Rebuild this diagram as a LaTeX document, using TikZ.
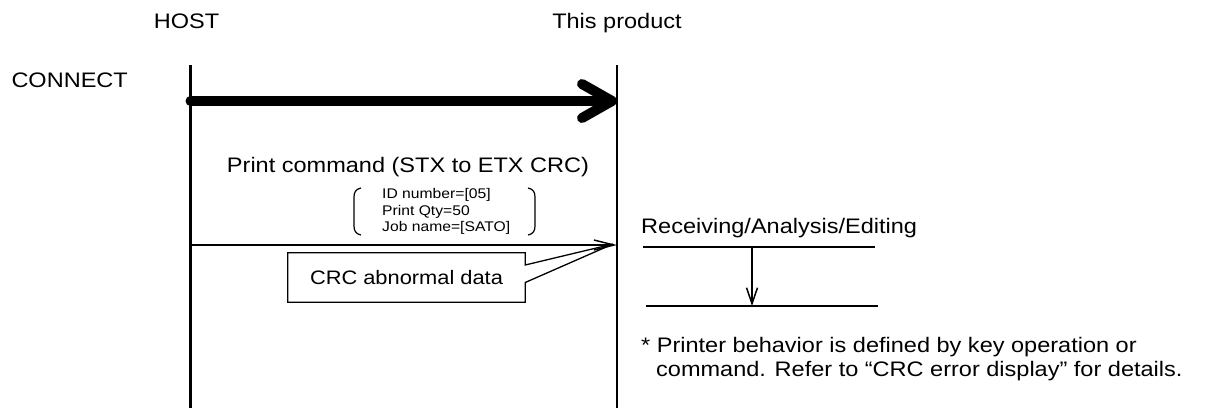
\documentclass[tikz,border=0pt]{standalone}
\usepackage{fontspec}
\setmainfont{Liberation Sans}[FakeStretch=1.12]
\usetikzlibrary{arrows.meta, positioning, calc}

\begin{document}
\begin{tikzpicture}[
    x=1pt, y=-1pt,
    lbl/.style={inner sep=0pt, font=\fontsize{21}{24}\selectfont},
    small/.style={inner sep=0pt, font=\fontsize{14}{16.5}\selectfont, align=left},
    life/.style={line width=2.5pt},
    bar/.style={line width=1.3pt},
    paren/.style={line width=1.2pt},
    big/.style={line width=10pt, line cap=round,
                -{Straight Barb[length=30pt, width=34pt, round]}},
    msg/.style={line width=1.5pt, -{Straight Barb[length=20pt, width=10pt]}},
    flow/.style={line width=1.5pt, -{Straight Barb[length=16pt, width=11pt]}},
  ]
    \useasboundingbox (0,0) rectangle (1206,407);

    % lifelines
    \coordinate (hostTop) at (190.5,65);
    \coordinate (hostBot) at (190.5,410);
    \coordinate (prodTop) at (617,65);
    \coordinate (prodBot) at (617,410);
    \draw[life] (hostTop) -- (hostBot);
    \draw[life] (prodTop) -- (prodBot);

    \node[lbl, anchor=base] (host) at (186.5,28) {HOST};
    \node[lbl, anchor=base] (prod) at (617,28) {This product};
    \node[lbl, anchor=base east] (conn) at (128,87.5) {CONNECT};

    % connect
    \coordinate (c1) at (hostTop |- 0,101);
    \coordinate (c2) at (prodTop |- 0,101);
    \draw[big] (c1) -- (c2);

    % print command
    \node[lbl, anchor=base] (cmd) at (408,172) {Print command (STX to ETX CRC)};
    \node[small, anchor=north west] (params) at (382,188.5)
        {ID number=[05]\\Print Qty=50\\Job name=[SATO]};
    \draw[paren] (361,188) .. controls (356,189) and (354,192) .. (354,197)
        -- (354,226) .. controls (354,231) and (356,234) .. (361,235);
    \draw[paren] (528,188) .. controls (533,189) and (535,192) .. (535,197)
        -- (535,226) .. controls (535,231) and (533,234) .. (528,235);

    \coordinate (m1) at (hostTop |- 0,245);
    \coordinate (m2) at (prodTop |- 0,245);
    \draw[msg] (m1) -- (m2);

    % callout
    \node[lbl, font=\fontsize{19.5}{22}\selectfont,
          minimum width=237pt, minimum height=49pt] (crc) at (406.5,277.5) {CRC abnormal data};
    \draw[bar] ($(crc.east)+(0,-12.5)$) -- (crc.north east) -- (crc.north west)
        -- (crc.south west) -- (crc.south east) -- ($(crc.east)+(0,5)$)
        -- ($(m2)+(-4,-1)$) -- cycle;

    % receiving side
    \node[lbl, anchor=base west] (recv) at (641,233) {Receiving/Analysis/Editing};
    \coordinate (t1) at (643,247);
    \coordinate (t2) at (875,247);
    \coordinate (b1) at (646,306);
    \coordinate (b2) at (878,306);
    \coordinate (fTop) at (752,247);
    \coordinate (fBot) at (752,306);
    \draw[bar] (t1) -- (t2);
    \draw[bar] (b1) -- (b2);
    \draw[flow] (fTop) -- (fBot);

    \node[lbl, anchor=north west, align=left] (note) at (641,337)
        {* Printer behavior is defined by key operation or\\
         \hspace*{15pt}command. Refer to “CRC error display” for details.};
\end{tikzpicture}
\end{document}
